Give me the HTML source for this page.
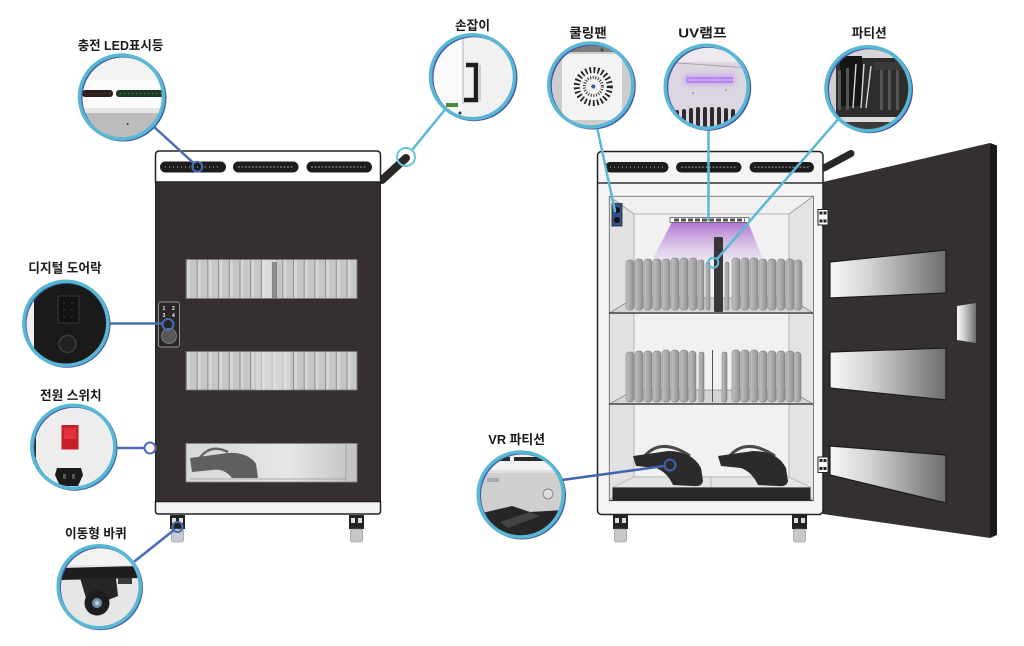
<!DOCTYPE html>
<html>
<head>
<meta charset="utf-8">
<style>
html,body{margin:0;padding:0;background:#fff;}
svg{display:block;}
text{font-family:"Liberation Sans","Noto Sans CJK KR",sans-serif;font-weight:bold;fill:#1a1a1a;}
</style>
</head>
<body>
<svg width="1024" height="646" viewBox="0 0 1024 646" xmlns="http://www.w3.org/2000/svg">
<defs>
  <linearGradient id="fin" x1="0" x2="1" y1="0" y2="0">
    <stop offset="0" stop-color="#c4c4c4"/><stop offset="1" stop-color="#8e8e8e"/>
  </linearGradient>
  <linearGradient id="mirror" x1="0" x2="1" y1="0" y2="0">
    <stop offset="0" stop-color="#f7f7f7"/><stop offset="0.35" stop-color="#d2d2d2"/><stop offset="1" stop-color="#6c6c6c"/>
  </linearGradient>
  <linearGradient id="uv" x1="0" x2="0" y1="0" y2="1">
    <stop offset="0" stop-color="#a55bd0" stop-opacity="0.85"/><stop offset="1" stop-color="#c9a6dc" stop-opacity="0.15"/>
  </linearGradient>
  <linearGradient id="win3" x1="0" x2="1" y1="0" y2="0">
    <stop offset="0" stop-color="#d8d8d8"/><stop offset="0.6" stop-color="#e6e6e6"/><stop offset="1" stop-color="#c2c2c2"/>
  </linearGradient>
  <pattern id="stripes" x="186" y="0" width="10.7" height="50" patternUnits="userSpaceOnUse">
    <rect width="10.7" height="50" fill="#c6c6c6"/>
    <rect x="0" width="1" height="50" fill="#8a8a8a"/>
    <rect x="1" width="3" height="50" fill="#d6d6d6"/>
  </pattern>
  <clipPath id="cLED"><circle cx="121.5" cy="97" r="41"/></clipPath>
  <clipPath id="cHandle"><circle cx="472.5" cy="76.7" r="41"/></clipPath>
  <clipPath id="cLock"><circle cx="65.8" cy="323.3" r="41"/></clipPath>
  <clipPath id="cPower"><circle cx="73.3" cy="446.7" r="40.5"/></clipPath>
  <clipPath id="cWheel"><circle cx="99.2" cy="586.7" r="40"/></clipPath>
  <clipPath id="cFan"><circle cx="590.8" cy="85" r="41"/></clipPath>
  <clipPath id="cUV"><circle cx="706.7" cy="86.7" r="40.5"/></clipPath>
  <clipPath id="cPart"><circle cx="868" cy="88.7" r="41"/></clipPath>
  <clipPath id="cVR"><circle cx="520.7" cy="494.5" r="41.5"/></clipPath>
  <filter id="glow" x="-50%" y="-200%" width="200%" height="500%"><feGaussianBlur stdDeviation="2"/></filter>
</defs>

<rect width="1024" height="646" fill="#fff"/>

<!-- ================= LEFT CABINET ================= -->
<line x1="382" y1="180" x2="406" y2="158" stroke="#2b2727" stroke-width="8" stroke-linecap="round"/>
<path d="M155.5,182 L155.5,155 Q155.5,151 159.5,151 L376.5,151 Q380.5,151 380.5,155 L380.5,182 Z" fill="#fff" stroke="#222" stroke-width="1.5"/>
<rect x="155.5" y="182" width="225" height="320" fill="#35302f" stroke="#222" stroke-width="1"/>
<path d="M155.5,501.5 L380.5,501.5 L380.5,511 Q380.5,514 377.5,514 L158.5,514 Q155.5,514 155.5,511 Z" fill="#f3f3f3" stroke="#222" stroke-width="1.5"/>
<rect x="160" y="161.5" width="66" height="11" rx="5.5" fill="#1d1b1b"/>
<rect x="233" y="161.5" width="65.5" height="11" rx="5.5" fill="#1d1b1b"/>
<rect x="306.5" y="161.5" width="65.5" height="11" rx="5.5" fill="#1d1b1b"/>
<line x1="165" y1="167" x2="221" y2="167" stroke="#9a9a9a" stroke-width="1.2" stroke-dasharray="1 3"/>
<line x1="238" y1="167" x2="294" y2="167" stroke="#8a8a8a" stroke-width="1.2" stroke-dasharray="2 1.5"/>
<line x1="311" y1="167" x2="367" y2="167" stroke="#8a8a8a" stroke-width="1.2" stroke-dasharray="2 1.5"/>
<rect x="186" y="259.5" width="171" height="39" fill="url(#stripes)" stroke="#777" stroke-width="0.8"/>
<rect x="262" y="260" width="14" height="38" fill="#e4e4e4" opacity="0.7"/>
<rect x="272" y="262" width="5" height="36" fill="#555" opacity="0.6"/>
<rect x="186" y="351.5" width="171" height="38.5" fill="url(#stripes)" stroke="#777" stroke-width="0.8"/>
<rect x="256" y="352" width="34" height="38" fill="#e2e2e2" opacity="0.55"/>
<rect x="186" y="443.5" width="171" height="38.5" fill="url(#win3)" stroke="#888" stroke-width="0.8"/>
<line x1="346" y1="444" x2="346" y2="482" stroke="#999" stroke-width="0.8"/>
<line x1="190" y1="479" x2="346" y2="479" stroke="#999" stroke-width="0.8"/>
<path d="M199,459 Q210,443 228,452" fill="none" stroke="#666" stroke-width="2.5"/>
<path d="M190,458 L228,453 Q248,452 256,464 L258,478 L232,478 Q224,468 212,470 L192,472 Z" fill="#5f5f5f"/>
<rect x="158.5" y="302" width="21" height="45" rx="2.5" fill="#2a2626" stroke="#9a9a9a" stroke-width="0.9"/>
<text x="162.5" y="310" style="font-size:5px;fill:#eee">1</text>
<text x="172" y="310" style="font-size:5px;fill:#eee">2</text>
<text x="162.5" y="317" style="font-size:5px;fill:#eee">3</text>
<text x="172" y="317" style="font-size:5px;fill:#eee">4</text>
<circle cx="169" cy="336" r="7.5" fill="#5a5757" stroke="#888" stroke-width="0.8"/>
<rect x="170" y="515" width="15" height="14" fill="#222"/>
<rect x="172" y="518" width="4" height="5" fill="#ddd"/>
<rect x="179" y="518" width="4" height="5" fill="#ddd"/>
<rect x="171.5" y="529" width="12" height="13" rx="2" fill="#c6cbd6" stroke="#888" stroke-width="0.6"/>
<rect x="349" y="515" width="15" height="14" fill="#222"/>
<rect x="351" y="518" width="4" height="5" fill="#ddd"/>
<rect x="358" y="518" width="4" height="5" fill="#ddd"/>
<rect x="350.5" y="529" width="12" height="13" rx="2" fill="#c6c6c6" stroke="#888" stroke-width="0.6"/>

<!-- ================= RIGHT CABINET ================= -->
<polygon points="823,182 990,143 990,538 823,514" fill="#353030"/>
<polygon points="990,143 997,145.5 997,535 990,538" fill="#1e1a1a"/>
<polygon points="830,262 946,250 946,293 830,298" fill="url(#mirror)" stroke="#1a1a1a" stroke-width="1.2" stroke-linejoin="round"/>
<polygon points="830,352 946,348 946,400 830,388" fill="url(#mirror)" stroke="#1a1a1a" stroke-width="1.2" stroke-linejoin="round"/>
<polygon points="830,446 946,455 946,503 830,475" fill="url(#mirror)" stroke="#1a1a1a" stroke-width="1.2" stroke-linejoin="round"/>
<polygon points="957,306 976,303 976,343 957,340" fill="url(#mirror)"/>
<line x1="824" y1="168" x2="851" y2="153.5" stroke="#2b2727" stroke-width="7" stroke-linecap="round"/>
<rect x="597.5" y="151.5" width="225.5" height="363" rx="4" fill="#f5f5f5" stroke="#222" stroke-width="1.5"/>
<line x1="597.5" y1="183" x2="823" y2="183" stroke="#333" stroke-width="1.5"/>
<rect x="605" y="162" width="63.5" height="10.5" rx="5.2" fill="#1d1b1b"/>
<rect x="676" y="162" width="65.5" height="10.5" rx="5.2" fill="#1d1b1b"/>
<rect x="749.5" y="162" width="64.5" height="10.5" rx="5.2" fill="#1d1b1b"/>
<line x1="610" y1="167.2" x2="664" y2="167.2" stroke="#999" stroke-width="1.2" stroke-dasharray="1 3"/>
<line x1="681" y1="167.2" x2="737" y2="167.2" stroke="#8a8a8a" stroke-width="1.2" stroke-dasharray="2 1.5"/>
<line x1="754" y1="167.2" x2="810" y2="167.2" stroke="#8a8a8a" stroke-width="1.2" stroke-dasharray="2 1.5"/>
<rect x="609.5" y="196.5" width="203.5" height="304" fill="#e9e9e9" stroke="#333" stroke-width="1.2"/>
<polygon points="609.5,196.5 813,196.5 789,214 634,214" fill="#f0f0f0"/>
<polygon points="609.5,196.5 634,214 634,477 609.5,500.5" fill="#e1e1e1"/>
<polygon points="813,196.5 789,214 789,477 813,500.5" fill="#e3e3e3"/>
<rect x="634" y="214" width="155" height="263" fill="#f1f1f1" stroke="#aaa" stroke-width="0.8"/>
<line x1="609.5" y1="196.5" x2="634" y2="214" stroke="#999" stroke-width="0.8"/>
<line x1="813" y1="196.5" x2="789" y2="214" stroke="#999" stroke-width="0.8"/>
<line x1="609.5" y1="500.5" x2="634" y2="477" stroke="#999" stroke-width="0.8"/>
<line x1="813" y1="500.5" x2="789" y2="477" stroke="#999" stroke-width="0.8"/>
<rect x="612" y="203.5" width="10" height="22.5" fill="#34508c" stroke="#222" stroke-width="0.8"/>
<circle cx="617" cy="210" r="3" fill="#111"/>
<circle cx="617" cy="220" r="3" fill="#111"/>
<polygon points="672,222 748,222 764,262 651,262" fill="url(#uv)"/>
<rect x="670" y="217.5" width="79" height="5" fill="#fff" stroke="#555" stroke-width="0.8"/>
<line x1="674" y1="220" x2="745" y2="220" stroke="#555" stroke-width="3" stroke-dasharray="5 2"/>
<polygon points="609.5,313 813,313 789,298 634,298" fill="#d4d4d4" stroke="#666" stroke-width="0.6"/>
<g fill="url(#fin)" stroke="#777" stroke-width="0.5">
<rect x="626" y="260" width="8" height="50" rx="3"/><rect x="635" y="259" width="8" height="51" rx="3"/><rect x="644" y="259" width="8" height="51" rx="3"/>
<rect x="653" y="259" width="8" height="51" rx="3"/><rect x="662" y="259" width="8" height="51" rx="3"/><rect x="671" y="258" width="8" height="52" rx="3"/>
<rect x="680" y="258" width="8" height="52" rx="3"/><rect x="689" y="258" width="8" height="52" rx="3"/><rect x="698" y="260" width="6" height="50" rx="2"/>
<rect x="706" y="262" width="4" height="48" rx="1.5"/><rect x="725" y="262" width="4" height="48" rx="1.5"/>
<rect x="732" y="258" width="8" height="52" rx="3"/><rect x="741" y="258" width="8" height="52" rx="3"/><rect x="750" y="258" width="8" height="52" rx="3"/>
<rect x="759" y="259" width="8" height="51" rx="3"/><rect x="768" y="259" width="8" height="51" rx="3"/><rect x="777" y="259" width="8" height="51" rx="3"/>
<rect x="786" y="259" width="8" height="51" rx="3"/><rect x="794" y="260" width="8" height="50" rx="3"/>
</g>
<rect x="714" y="237" width="9" height="75" rx="1.5" fill="#3a3636"/>
<line x1="609.5" y1="313" x2="813" y2="313" stroke="#444" stroke-width="1.6"/>
<polygon points="609.5,404 813,404 789,390 634,390" fill="#d4d4d4" stroke="#666" stroke-width="0.6"/>
<g fill="url(#fin)" stroke="#777" stroke-width="0.5">
<rect x="626" y="352" width="8" height="50" rx="3"/><rect x="635" y="351" width="8" height="51" rx="3"/><rect x="644" y="351" width="8" height="51" rx="3"/>
<rect x="653" y="351" width="8" height="51" rx="3"/><rect x="662" y="350" width="8" height="52" rx="3"/><rect x="671" y="350" width="8" height="52" rx="3"/>
<rect x="680" y="350" width="8" height="52" rx="3"/><rect x="689" y="351" width="7" height="51" rx="3"/>
<rect x="699" y="352" width="5" height="50" rx="2"/><rect x="722" y="352" width="5" height="50" rx="2"/>
<rect x="732" y="350" width="8" height="52" rx="3"/><rect x="741" y="350" width="8" height="52" rx="3"/><rect x="750" y="350" width="8" height="52" rx="3"/>
<rect x="759" y="351" width="8" height="51" rx="3"/><rect x="768" y="351" width="8" height="51" rx="3"/><rect x="777" y="351" width="8" height="51" rx="3"/>
<rect x="786" y="351" width="8" height="51" rx="3"/><rect x="794" y="352" width="7" height="50" rx="3"/>
</g>
<line x1="712.5" y1="350" x2="712.5" y2="402" stroke="#555" stroke-width="1"/>
<line x1="609.5" y1="404" x2="813" y2="404" stroke="#444" stroke-width="1.6"/>
<polygon points="634,477 789,477 811,487.5 612.5,487.5" fill="#e4e4e4" stroke="#999" stroke-width="0.6"/>
<line x1="711" y1="477" x2="711" y2="487.5" stroke="#999" stroke-width="0.6"/>
<rect x="612.5" y="487.5" width="198" height="13" fill="#2a2727"/>
<path d="M643,458 Q660,436 690,456" fill="none" stroke="#4a4a4a" stroke-width="3"/>
<path d="M633,456 L668,451 Q692,451 701,468 L703,481 Q702,487 693,486 L673,485 Q667,472 656,468 L636,466 Z" fill="#2c2a2a"/>
<path d="M728,458 Q745,436 775,456" fill="none" stroke="#4a4a4a" stroke-width="3"/>
<path d="M718,456 L753,451 Q777,451 786,468 L788,481 Q787,487 778,486 L758,485 Q752,472 741,468 L721,466 Z" fill="#2c2a2a"/>
<rect x="818" y="209.5" width="10" height="15.5" fill="#fff" stroke="#222" stroke-width="1"/>
<rect x="819.5" y="211.5" width="3" height="3" fill="#222"/><rect x="823.5" y="211.5" width="3" height="3" fill="#222"/>
<rect x="819.5" y="219.5" width="3" height="3" fill="#222"/><rect x="823.5" y="219.5" width="3" height="3" fill="#222"/>
<rect x="818" y="457" width="10" height="15.5" fill="#fff" stroke="#222" stroke-width="1"/>
<rect x="819.5" y="459" width="3" height="3" fill="#222"/><rect x="823.5" y="459" width="3" height="3" fill="#222"/>
<rect x="819.5" y="467" width="3" height="3" fill="#222"/><rect x="823.5" y="467" width="3" height="3" fill="#222"/>
<rect x="613" y="515" width="15" height="14" fill="#222"/>
<rect x="615" y="518" width="4" height="5" fill="#ddd"/><rect x="622" y="518" width="4" height="5" fill="#ddd"/>
<rect x="614.5" y="529" width="12" height="13" rx="2" fill="#c8c8c8" stroke="#888" stroke-width="0.6"/>
<rect x="792" y="515" width="15" height="14" fill="#222"/>
<rect x="794" y="518" width="4" height="5" fill="#ddd"/><rect x="801" y="518" width="4" height="5" fill="#ddd"/>
<rect x="793.5" y="529" width="12" height="13" rx="2" fill="#c8c8c8" stroke="#888" stroke-width="0.6"/>

<!-- ================= CONNECTORS ================= -->
<g fill="none" stroke-linecap="round">
<line x1="152" y1="125" x2="193.5" y2="163" stroke="#4a6cb3" stroke-width="2.5"/>
<circle cx="197.3" cy="166.7" r="5" stroke="#4a6cb3" stroke-width="2"/>
<line x1="445.5" y1="109" x2="412" y2="150" stroke="#5ab9d6" stroke-width="2.5"/>
<circle cx="406" cy="157" r="9" stroke="#6cc5de" stroke-width="2"/>
<line x1="107" y1="323.5" x2="162" y2="323.5" stroke="#4a6cb3" stroke-width="2.5"/>
<circle cx="168" cy="324.5" r="5.5" stroke="#4a6cb3" stroke-width="2"/>
<line x1="114" y1="448" x2="144.5" y2="448" stroke="#4a6cb3" stroke-width="2.5"/>
<circle cx="150" cy="448" r="5.5" fill="#fff" stroke="#4a6cb3" stroke-width="2"/>
<line x1="135" y1="561" x2="174" y2="530" stroke="#4a6cb3" stroke-width="2.5"/>
<circle cx="177.5" cy="527" r="5" stroke="#4a6cb3" stroke-width="2"/>
<line x1="597" y1="127" x2="615" y2="211" stroke="#5ab9d6" stroke-width="2.5"/>
<line x1="708.5" y1="128" x2="708.5" y2="220" stroke="#5ab9d6" stroke-width="2.5"/>
<line x1="840" y1="117" x2="717" y2="259" stroke="#5ab9d6" stroke-width="2.5"/>
<circle cx="713.3" cy="262.7" r="5" stroke="#5ab9d6" stroke-width="2"/>
<line x1="562" y1="480" x2="664.5" y2="466" stroke="#3f63b0" stroke-width="2.5"/>
<circle cx="670" cy="465" r="5.5" stroke="#3f63b0" stroke-width="2"/>
</g>

<!-- ================= CALLOUT CIRCLES ================= -->
<g clip-path="url(#cLED)">
  <rect x="78" y="54" width="88" height="90" fill="#f2f2f2"/>
  <rect x="78" y="80" width="88" height="28" fill="#fbfbfb"/>
  <rect x="82" y="90" width="31" height="7" rx="3" fill="#2b201b"/>
  <rect x="116" y="90" width="50" height="7" rx="3" fill="#1d3a22"/>
  <line x1="120" y1="93.5" x2="165" y2="93.5" stroke="#3f8a4a" stroke-width="1" stroke-dasharray="1 3"/>
  <line x1="85" y1="93.5" x2="111" y2="93.5" stroke="#6a4a3a" stroke-width="1" stroke-dasharray="1 3"/>
  <rect x="78" y="108" width="88" height="5" fill="#e4e4e4"/>
  <rect x="78" y="113" width="88" height="30" fill="#bcbcbc"/>
  <circle cx="127.7" cy="124" r="1" fill="#444"/>
</g>
<g clip-path="url(#cHandle)">
  <rect x="430" y="34" width="86" height="86" fill="#f1f1f1"/>
  <rect x="430" y="34" width="33" height="86" fill="#fafafa"/>
  <line x1="463" y1="34" x2="463" y2="104" stroke="#c8c8c8" stroke-width="1.5"/>
  <path d="M466,65 L476,65 L476,100 L464,100" fill="none" stroke="#1e1e1e" stroke-width="4.5"/>
  <rect x="478" y="65" width="3" height="36" fill="#cfcfcf"/>
  <rect x="446" y="103" width="12" height="4" fill="#4a8a3a"/>
  <circle cx="460" cy="113" r="1.5" fill="#333"/>
</g>
<g clip-path="url(#cLock)">
  <rect x="23" y="281" width="86" height="86" fill="#1b1a1a"/>
  <rect x="23" y="281" width="11" height="86" fill="#eeeeee"/>
  <rect x="58" y="296" width="21" height="27" rx="1.5" fill="#121212" stroke="#383838" stroke-width="1"/>
  <g fill="#3c3c3c"><circle cx="64" cy="303" r="0.9"/><circle cx="72" cy="303" r="0.9"/><circle cx="64" cy="310" r="0.9"/><circle cx="72" cy="310" r="0.9"/><circle cx="64" cy="317" r="0.9"/><circle cx="72" cy="317" r="0.9"/></g>
  <circle cx="67.5" cy="344" r="8.5" fill="#222" stroke="#3e3e3e" stroke-width="1.5"/>
</g>
<g clip-path="url(#cPower)">
  <rect x="31" y="404" width="86" height="86" fill="#ededed"/>
  <rect x="31" y="404" width="5" height="86" fill="#2a2a2a"/>
  <rect x="61.5" y="425" width="17" height="24.5" fill="#c81e28"/>
  <rect x="64" y="428" width="12" height="11" fill="#e0323c"/>
  <path d="M57,468 L81,468 L83,475 L78,486 L60,486 L55,475 Z" fill="#1a1a1a"/>
  <rect x="63" y="474" width="3" height="5" fill="#555"/><rect x="72" y="474" width="3" height="5" fill="#555"/>
</g>
<g clip-path="url(#cWheel)">
  <rect x="58" y="545" width="84" height="84" fill="#e6e6e6"/>
  <rect x="58" y="545" width="84" height="20" fill="#f2f2f2"/>
  <path d="M62,568 L140,566 L140,578 L62,580 Z" fill="#1e1e1e"/>
  <path d="M80,578 L116,578 L118,596 L108,600 L86,598 Z" fill="#262626"/>
  <circle cx="97" cy="603" r="12.5" fill="#1d1d1d"/>
  <circle cx="97" cy="603" r="5" fill="#6f91b3"/>
  <circle cx="97" cy="603" r="2" fill="#ccc"/>
  <rect x="118" y="578" width="14" height="6" fill="#3a3a3a"/>
</g>
<g clip-path="url(#cFan)">
  <rect x="548" y="42" width="86" height="86" fill="#cdcdcd"/>
  <rect x="548" y="42" width="86" height="10" fill="#7d7d7d"/>
  <rect x="562" y="54" width="60" height="66" fill="#f3f3f3"/>
  <circle cx="602" cy="50" r="1.5" fill="#444"/>
  <circle cx="593.3" cy="86.5" r="16.5" fill="none" stroke="#1e1e1e" stroke-width="6" stroke-dasharray="1.7 2.4"/>
  <circle cx="593.3" cy="86.5" r="9" fill="none" stroke="#333" stroke-width="3" stroke-dasharray="1 1.6"/>
  <circle cx="593.3" cy="86.5" r="2" fill="#3055b0"/>
</g>
<g clip-path="url(#cUV)">
  <rect x="664" y="44" width="86" height="86" fill="#dbd6e0"/>
  <rect x="664" y="44" width="86" height="18" fill="#eceaee"/>
  <line x1="664" y1="62" x2="750" y2="68" stroke="#a9a3ad" stroke-width="1"/>
  <rect x="684" y="74" width="51" height="11" fill="#c28cff" opacity="0.5" filter="url(#glow)"/>
  <rect x="686.5" y="77" width="46.5" height="6" fill="#b584f0"/>
  <line x1="688" y1="80" x2="732" y2="80" stroke="#e8d8ff" stroke-width="1.5" stroke-dasharray="1.5 1.5"/>
  <circle cx="693" cy="93" r="0.8" fill="#666"/><circle cx="726" cy="90" r="0.8" fill="#666"/>
  <g fill="#2d2b30">
   <rect x="668" y="112" width="4" height="20" rx="2"/><rect x="675" y="110" width="4" height="22" rx="2"/><rect x="682" y="109" width="4" height="23" rx="2"/>
   <rect x="689" y="108" width="4" height="24" rx="2"/><rect x="696" y="107" width="4" height="25" rx="2"/><rect x="703" y="107" width="4" height="25" rx="2"/>
   <rect x="710" y="107" width="4" height="25" rx="2"/><rect x="717" y="107" width="4" height="25" rx="2"/><rect x="724" y="108" width="4" height="24" rx="2"/>
   <rect x="731" y="109" width="4" height="23" rx="2"/><rect x="738" y="110" width="4" height="22" rx="2"/>
  </g>
</g>
<g clip-path="url(#cPart)">
  <rect x="826" y="46" width="86" height="86" fill="#2e2c2c"/>
  <rect x="826" y="46" width="86" height="12" fill="#d6d6d6"/>
  <rect x="826" y="46" width="10" height="86" fill="#cfcfcf"/>
  <rect x="840" y="56" width="22" height="50" fill="#151515"/>
  <g fill="#555"><rect x="838" y="70" width="3" height="40"/><rect x="846" y="68" width="3" height="42"/><rect x="880" y="70" width="3" height="40"/><rect x="888" y="68" width="3" height="42"/><rect x="896" y="70" width="3" height="40"/></g>
  <path d="M856,64 L853,108 M864,64 L861,108 M871,66 L866,108" stroke="#d8d8d8" stroke-width="1.4" fill="none"/>
  <rect x="874" y="62" width="30" height="8" fill="#3a3a3a"/>
  <rect x="826" y="117" width="86" height="5" fill="#dcdcdc"/>
  <rect x="826" y="122" width="86" height="10" fill="#3a3a3a"/>
</g>
<g clip-path="url(#cVR)">
  <rect x="478" y="452" width="86" height="86" fill="#cfcfcf"/>
  <rect x="478" y="452" width="86" height="20" fill="#f3f3f3"/>
  <rect x="480" y="457" width="30" height="4" fill="#2a2a2a"/>
  <rect x="514" y="457" width="30" height="4" fill="#2a2a2a"/>
  <rect x="487" y="478" width="12" height="4" fill="#aaa"/>
  <rect x="478" y="470" width="86" height="3" fill="#e0e0e0"/>
  <circle cx="548" cy="494" r="5" fill="#ddd" stroke="#888" stroke-width="1"/>
  <polygon points="478,514 512,506 530,512 564,510 564,538 478,538" fill="#262626"/>
  <polygon points="500,522 530,512 540,516 508,528" fill="#444"/>
</g>

<g fill="none">
  <circle cx="123" cy="98" r="42" stroke="#3f5da3" stroke-width="3"/>
  <circle cx="121.5" cy="97" r="42" stroke="#58b7d3" stroke-width="3.5"/>
  <circle cx="474" cy="77.7" r="42" stroke="#4656a6" stroke-width="3"/>
  <circle cx="472.5" cy="76.7" r="42" stroke="#58b7d3" stroke-width="3.5"/>
  <circle cx="67" cy="324.3" r="42" stroke="#3f5da3" stroke-width="3"/>
  <circle cx="65.8" cy="323.3" r="42" stroke="#58b7d3" stroke-width="3.5"/>
  <circle cx="74.5" cy="447.7" r="41.5" stroke="#3f5da3" stroke-width="3"/>
  <circle cx="73.3" cy="446.7" r="41.5" stroke="#58b7d3" stroke-width="3.5"/>
  <circle cx="100.4" cy="587.7" r="41" stroke="#3f5da3" stroke-width="3"/>
  <circle cx="99.2" cy="586.7" r="41" stroke="#58b7d3" stroke-width="3.5"/>
  <circle cx="592.3" cy="86" r="42" stroke="#4656a6" stroke-width="3"/>
  <circle cx="590.8" cy="85" r="42" stroke="#58b7d3" stroke-width="3.5"/>
  <circle cx="708.2" cy="87.7" r="41.5" stroke="#4656a6" stroke-width="3"/>
  <circle cx="706.7" cy="86.7" r="41.5" stroke="#58b7d3" stroke-width="3.5"/>
  <circle cx="869.5" cy="89.7" r="42" stroke="#4656a6" stroke-width="3"/>
  <circle cx="868" cy="88.7" r="42" stroke="#58b7d3" stroke-width="3.5"/>
  <circle cx="522" cy="495.5" r="42.5" stroke="#3f5da3" stroke-width="3"/>
  <circle cx="520.7" cy="494.5" r="42.5" stroke="#58b7d3" stroke-width="3.5"/>
</g>

<g style="font-size:13px">
  <text x="77.7" y="50" textLength="85.6" lengthAdjust="spacingAndGlyphs">충전 LED표시등</text>
  <text x="455" y="30" textLength="35" lengthAdjust="spacingAndGlyphs">손잡이</text>
  <text x="28.3" y="272.5" textLength="73.4" lengthAdjust="spacingAndGlyphs">디지털 도어락</text>
  <text x="40" y="400" textLength="61.7" lengthAdjust="spacingAndGlyphs">전원 스위치</text>
  <text x="65" y="538" textLength="61.7" lengthAdjust="spacingAndGlyphs">이동형 바퀴</text>
  <text x="569.3" y="37.5" textLength="37.4" lengthAdjust="spacingAndGlyphs">쿨링팬</text>
  <text x="678.3" y="37.5" textLength="48.4" lengthAdjust="spacingAndGlyphs">UV램프</text>
  <text x="851.7" y="37.5" textLength="35" lengthAdjust="spacingAndGlyphs">파티션</text>
  <text x="488.3" y="444" textLength="56.7" lengthAdjust="spacingAndGlyphs">VR 파티션</text>
</g>
</svg>
</body>
</html>
